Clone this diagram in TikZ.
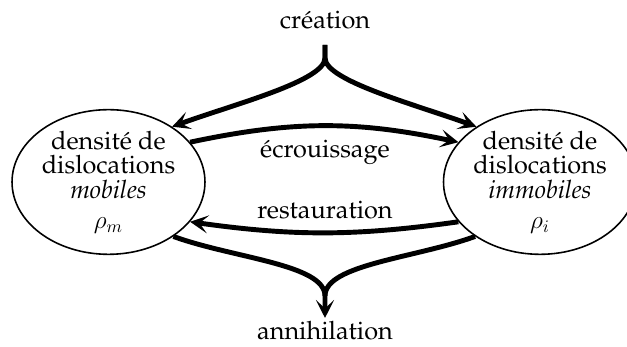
\documentclass[tikz,border=0pt]{standalone}
\usepackage[T1]{fontenc}
\renewcommand{\rmdefault}{ppl}
\usetikzlibrary{arrows.meta, shapes.geometric}
\newcommand{\labelsize}{\fontsize{14.4}{14}\selectfont}
\tikzset{
  density/.style={ellipse, draw=black, line width=0.9pt, minimum width=3.86cm, minimum height=2.8cm, inner sep=0pt, align=center, font=\labelsize},
  process/.style={font=\labelsize, inner sep=1pt},
  flow/.style={line width=2.8pt, -{Stealth[length=3.6mm, width=3.6mm, inset=1.7mm]}},
  plainflow/.style={line width=2.8pt}
}
\begin{document}
\begin{tikzpicture}[x=0.02cm, y=-0.02cm]
\useasboundingbox (0,0) rectangle (627,347);
% reservoirs
\node[density] (mob) at (108.5,182) {densit\'e de\\dislocations\\\textit{mobiles}\\[3pt]$\rho_m$};
\node[density] (imm) at (540,182) {densit\'e de\\dislocations\\\textit{immobiles}\\[3pt]$\rho_i$};
% sources and sinks
\node[process] (crea) at (325,20) {cr\'eation};
\node[process] (anni) at (325,331) {annihilation};
\node[process] (ecr) at (325,152) {\'ecrouissage};
\node[process] (rest) at (325,210) {restauration};
\coordinate (creatop) at (325,45);
\coordinate (creasplit) at (325,58);
\coordinate (annicusp) at (325,296);
\coordinate (annitip) at (325,318);
% creation
\draw[flow] (creatop) -- (creasplit) to[out=-90, in=20, out looseness=0.35] (mob.41);
\draw[flow] (creatop) -- (creasplit) to[out=-90, in=160, out looseness=0.35] (imm.139);
% hardening and recovery
\draw[flow] (mob.26) to[bend left=12] (imm.154);
\draw[flow] (imm.206) to[bend left=8] (mob.334);
% annihilation
\draw[plainflow] (mob.-40) to[out=-20, in=90, in looseness=0.5] (annicusp);
\draw[flow] (imm.220) to[out=200, in=90, in looseness=0.5] (annicusp) -- (annitip);
\end{tikzpicture}
\end{document}
